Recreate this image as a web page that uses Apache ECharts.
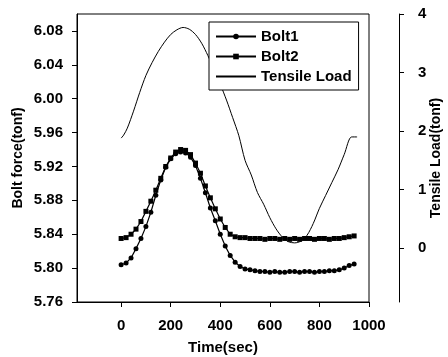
<!DOCTYPE html>
<html>
<head>
<meta charset="utf-8">
<script src="https://cdn.jsdelivr.net/npm/echarts@6/dist/echarts.min.js"></script>
<style>
  html, body { margin: 0; padding: 0; background: #fff; }
  #chart { width: 448px; height: 357px; }
</style>
</head>
<body>
<div id="chart"></div>
<script>
// sample times (sec) for the two bolts
var times = [0, 20, 40, 60, 80, 100, 120, 140, 160, 180, 200, 220, 240, 260, 280, 300,
  320, 340, 360, 380, 400, 420, 440, 460, 480, 500, 520, 540, 560, 580, 600, 620,
  640, 660, 680, 700, 720, 740, 760, 780, 800, 820, 840, 860, 880, 900, 920, 940];
var bolt1 = [5.804, 5.806, 5.812, 5.823, 5.835, 5.849, 5.866, 5.886, 5.904, 5.919, 5.929, 5.935,
  5.937, 5.936, 5.931, 5.921, 5.906, 5.889, 5.871, 5.856, 5.840, 5.826, 5.815, 5.807,
  5.802, 5.799, 5.798, 5.797, 5.796, 5.796, 5.795, 5.796, 5.795, 5.795, 5.796, 5.796,
  5.795, 5.796, 5.796, 5.795, 5.796, 5.796, 5.797, 5.797, 5.798, 5.800, 5.803, 5.805];
var bolt2 = [5.835, 5.836, 5.840, 5.846, 5.855, 5.867, 5.879, 5.892, 5.906, 5.920, 5.930, 5.937,
  5.940, 5.939, 5.934, 5.924, 5.912, 5.897, 5.883, 5.870, 5.858, 5.848, 5.840, 5.837,
  5.836, 5.836, 5.835, 5.835, 5.835, 5.834, 5.835, 5.835, 5.834, 5.835, 5.834, 5.835,
  5.834, 5.835, 5.835, 5.834, 5.835, 5.835, 5.834, 5.835, 5.835, 5.836, 5.837, 5.838];
// tensile load (tonf), right axis
var loadTimes = [0, 10, 25, 50, 75, 100, 125, 150, 175, 200, 225, 250, 275, 300, 325, 350, 375,
  400, 425, 450, 475, 500, 525, 550, 575, 600, 625, 650, 675, 700, 725, 750, 775, 800,
  825, 850, 875, 900, 930, 952];
var loadValues = [1.88, 1.93, 2.05, 2.34, 2.66, 2.95, 3.17, 3.36, 3.52, 3.65, 3.73, 3.77, 3.74,
  3.65, 3.50, 3.29, 3.05, 2.80, 2.53, 2.23, 1.92, 1.50, 1.25, 0.95, 0.75, 0.52, 0.33, 0.19,
  0.11, 0.09, 0.12, 0.22, 0.42, 0.68, 0.90, 1.12, 1.34, 1.60, 1.90, 1.90];

var xTicks = [0, 200, 400, 600, 800, 1000];
var leftTicks = [5.76, 5.80, 5.84, 5.88, 5.92, 5.96, 6.00, 6.04, 6.08];
var rightTicks = [0, 1, 2, 3, 4];

function pairs(xs, ys) {
  return xs.map(function(x, i) { return [x, ys[i]]; });
}

var font = "Liberation Sans, Arial, sans-serif";
var chart = echarts.init(document.getElementById("chart"), null, { renderer: "canvas" });
chart.setOption({
  animation: false,
  backgroundColor: "#fff",
  grid: {
    left: 77,
    top: 14,
    right: 79,
    bottom: 55,
    show: true,
    borderColor: "#000",
    borderWidth: 1,
    backgroundColor: "transparent",
    containLabel: false,
    outerBoundsMode: "none"
  },
  legend: {
    left: 209,
    top: 22,
    orient: "vertical",
    backgroundColor: "#fff",
    borderColor: "#000",
    borderWidth: 1,
    borderRadius: 0,
    padding: [7, 7, 6, 6],
    itemWidth: 40,
    itemHeight: 7,
    itemGap: 5,
    textStyle: { color: "#000", fontFamily: font, fontWeight: "bold", fontSize: 15 },
    data: [
      "Bolt1",
      "Bolt2",
      { name: "Tensile Load", itemStyle: { opacity: 0 } }
    ]
  },
  xAxis: {
    type: "value",
    min: -178,
    max: 1000,
    name: "Time(sec)",
    nameLocation: "middle",
    nameGap: 38,
    nameMoveOverlap: false,
    nameTextStyle: { color: "#000", fontFamily: font, fontWeight: "bold", fontSize: 15 },
    splitLine: { show: false },
    axisLine: { show: true, onZero: false, lineStyle: { color: "#000", width: 1 } },
    axisTick: { show: true, inside: false, length: 5, customValues: xTicks, lineStyle: { color: "#000" } },
    axisLabel: {
      customValues: xTicks,
      margin: 16,
      color: "#000",
      fontFamily: font,
      fontWeight: "bold",
      fontSize: 15,
      formatter: function(v) { return String(v); }
    }
  },
  yAxis: [
    {
      type: "value",
      position: "left",
      min: 5.76,
      max: 6.10,
      name: "Bolt force(tonf)",
      nameLocation: "middle",
      nameRotate: 90,
      nameGap: 52,
      nameMoveOverlap: false,
      nameTextStyle: { color: "#000", fontFamily: font, fontWeight: "bold", fontSize: 14 },
      splitLine: { show: false },
      axisLine: { show: true, onZero: false, lineStyle: { color: "#000", width: 1 } },
      axisTick: { show: true, length: 5, customValues: leftTicks, lineStyle: { color: "#000" } },
      axisLabel: {
        customValues: leftTicks,
        margin: 14,
        color: "#000",
        fontFamily: font,
        fontWeight: "bold",
        fontSize: 15,
        formatter: function(v) { return v.toFixed(2); }
      }
    },
    {
      type: "value",
      position: "right",
      offset: 30,
      min: -0.92,
      max: 4,
      name: "Tensile Load(tonf)",
      nameLocation: "middle",
      nameRotate: 90,
      nameGap: 30,
      nameMoveOverlap: false,
      nameTextStyle: { color: "#000", fontFamily: font, fontWeight: "bold", fontSize: 14 },
      splitLine: { show: false },
      axisLine: { show: true, onZero: false, lineStyle: { color: "#000", width: 1 } },
      axisTick: { show: true, length: 5, customValues: rightTicks, lineStyle: { color: "#000" } },
      axisLabel: {
        customValues: rightTicks,
        margin: 19,
        color: "#000",
        fontFamily: font,
        fontWeight: "bold",
        fontSize: 15
      }
    }
  ],
  series: [
    {
      name: "Bolt1",
      type: "line",
      yAxisIndex: 0,
      data: pairs(times, bolt1),
      symbol: "circle",
      symbolSize: 5,
      showAllSymbol: true,
      lineStyle: { color: "#000", width: 1.2 },
      itemStyle: { color: "#000", borderWidth: 0 },
      z: 3
    },
    {
      name: "Bolt2",
      type: "line",
      yAxisIndex: 0,
      data: pairs(times, bolt2),
      symbol: "rect",
      symbolSize: 5,
      showAllSymbol: true,
      lineStyle: { color: "#000", width: 1.2 },
      itemStyle: { color: "#000", borderWidth: 0 },
      z: 3
    },
    {
      name: "Tensile Load",
      type: "line",
      yAxisIndex: 1,
      data: pairs(loadTimes, loadValues),
      symbol: "none",
      smooth: 0.3,
      lineStyle: { color: "#000", width: 1 },
      itemStyle: { color: "#000" },
      z: 2
    }
  ]
});
</script>
</body>
</html>
